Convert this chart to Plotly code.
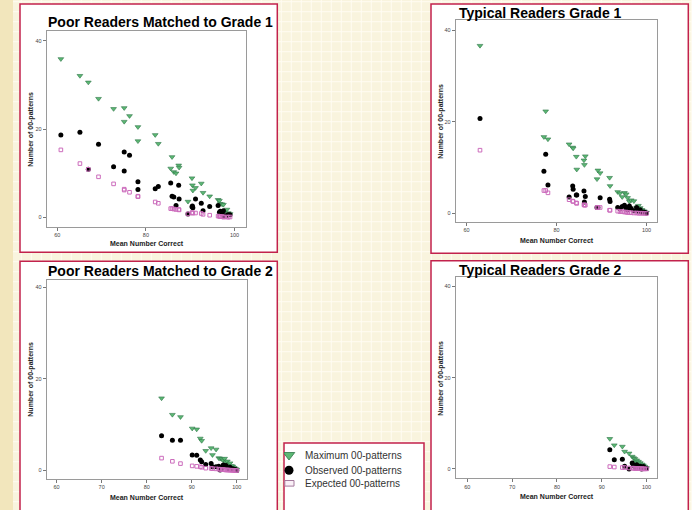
import plotly.graph_objects as go

# ---------------- data ----------------
titles = ["Poor Readers Matched to Grade 1", "Typical Readers Grade 1",
          "Poor Readers Matched to Grade 2", "Typical Readers Grade 2"]
series_names = ["Maximum 00-patterns", "Observed 00-patterns", "Expected 00-patterns"]
x_title = "Mean Number Correct"
y_title = "Number of 00-patterns"

p1_x = [60.8, 65.1, 67.0, 69.3, 72.7, 75.1, 75.1, 76.3, 78.2, 78.2, 82.1, 82.8, 85.6, 85.9, 86.3,
        86.8, 87.4, 87.5, 89.5, 90.4, 90.5, 90.6, 91.2, 92.5, 92.9, 94.4, 96.3, 96.6, 96.8, 97.2,
        97.5, 97.6, 98.3, 98.6, 99.0]
p1_max = [35.9, 32.1, 30.6, 26.9, 24.6, 24.8, 21.7, 23.0, 20.5, 17.3, 18.7, 16.7, 11.1, 13.7, 10.3,
          10.0, 11.8, 11.3, 3.6, 8.9, 7.3, 6.1, 6.7, 7.7, 5.6, 4.8, 4.0, 3.8, 3.1, 3.0,
          2.9, 1.2, 1.8, 1.0, 0.8]
p1_obs = [18.7, 19.3, 10.9, 16.6, 11.5, 14.8, 10.5, 14.1, 8.1, 6.3, 6.5, 7.0, 7.8, 4.8, 4.6,
          2.7, 7.3, 4.2, 0.8, 2.4, 2.6, 2.2, 4.2, 3.2, 1.5, 2.5, 2.7, 1.2, 1.4, 0.9,
          1.5, 0.3, 0.5, 0.6, 0.6]
p1_exp = [15.3, 12.2, 10.9, 9.2, 7.6, 6.4, 6.2, 5.7, 4.8, 4.7, 3.5, 3.2, 2.0, 2.0, 1.9,
          1.8, 1.8, 1.7, 0.8, 1.1, 1.0, 1.0, 1.0, 0.9, 0.7, 0.5, 0.3, 0.25, 0.2, 0.2,
          0.1, 0.1, 0.1, 0.05, 0.1]

p2_x = [63.0, 77.2, 77.6, 78.1, 82.8, 83.6, 83.7, 84.4, 84.5, 86.1, 86.2, 86.4, 89.0, 89.2, 89.7,
        91.8, 91.9, 93.6, 94.1, 94.6, 95.1, 95.5, 95.8, 96.2, 96.6, 97.2, 97.8, 98.2, 98.6, 99.0,
        99.5, 100.0]
p2_max = [36.6, 16.7, 22.3, 16.2, 15.1, 14.4, 14.2, 12.4, 9.6, 11.6, 10.6, 12.5, 7.5, 9.4, 8.8,
          7.8, 6.0, 4.7, 4.4, 3.6, 4.5, 4.2, 3.4, 2.6, 2.9, 2.7, 1.3, 1.7, 1.2, 0.8,
          0.5, 0.2]
p2_obs = [20.7, 9.2, 12.9, 6.2, 3.6, 6.0, 5.3, 4.0, 4.0, 4.9, 2.5, 3.7, 1.3, 1.3, 3.4,
          3.1, 2.6, 1.3, 1.0, 1.5, 1.8, 1.2, 0.8, 1.6, 1.1, 0.6, 1.3, 0.5, 0.8, 0.2,
          0.3, 0.1]
p2_exp = [13.8, 5.0, 5.0, 4.5, 3.0, 2.7, 2.6, 2.3, 2.2, 1.9, 1.8, 1.8, 1.3, 1.3, 1.3,
          0.7, 0.7, 0.5, 0.4, 0.4, 0.3, 0.3, 0.2, 0.2, 0.15, 0.1, 0.1, 0.05, 0.05, 0.05,
          0.0, 0.0]

p3_x = [83.3, 85.7, 87.5, 90.1, 91.1, 91.9, 92.2, 93.1, 94.3, 94.6, 95.4, 96.0, 96.3, 96.7, 97.0,
        97.3, 97.6, 97.9, 98.2, 98.5, 98.8, 99.1, 99.4, 99.7, 100.0]
p3_max = [15.8, 12.2, 11.7, 9.2, 9.0, 7.0, 6.5, 4.3, 4.9, 3.4, 4.6, 2.7, 2.6, 2.5, 2.2,
          2.6, 1.8, 2.0, 1.4, 1.6, 1.0, 0.9, 0.6, 0.4, 0.2]
p3_obs = [7.6, 6.6, 6.6, 3.4, 3.3, 2.3, 1.9, 1.3, 1.5, 0.8, 0.8, 0.9, 0.1, 0.5, 1.2,
          0.9, 1.1, 0.6, 0.3, 0.7, 0.2, 0.4, 0.1, 0.2, 0.0]
p3_exp = [2.7, 2.0, 1.5, 1.0, 0.9, 0.8, 0.7, 0.5, 0.45, 0.4, 0.35, 0.3, 0.25, 0.2, 0.2,
          0.15, 0.1, 0.1, 0.1, 0.05, 0.05, 0.05, 0.0, 0.0, 0.0]

p4_x = [91.8, 92.8, 94.6, 95.1, 96.1, 96.8, 97.1, 97.4, 97.6, 97.8, 98.2, 98.6, 98.9, 99.0, 99.3,
        99.6, 100.0]
p4_max = [6.6, 5.2, 4.9, 3.8, 3.4, 2.7, 2.4, 2.2, 1.5, 1.9, 1.6, 1.3, 0.6, 1.0, 0.8, 0.5, 0.2]
p4_obs = [4.2, 2.0, 2.1, 0.6, 0.0, 1.3, 0.8, 0.5, 0.2, 0.9, 0.4, 0.6, 0.0, 0.3, 0.5, 0.2, 0.1]
p4_exp = [0.5, 0.4, 0.3, 0.3, 0.2, 0.15, 0.15, 0.1, 0.05, 0.1, 0.1, 0.05, 0.0, 0.05, 0.0, 0.0, 0.0]

y_ticks = [0, 20, 40]
x_ticks_top = [60, 80, 100]
x_ticks_bottom = [60, 70, 80, 90, 100]

# ---------------- layout geometry (pixels) ----------------
W, H = 692, 510
def fx(x): return x / W
def fy(y): return 1 - y / H

FONT = "Liberation Sans, Arial, sans-serif"
GREEN, GREEN_EDGE = "#5cb874", "#2f7548"
PINK = "#cc6cbc"
CRIMSON = "#c2224c"

panels = [
    dict(data=(p1_x, p1_max, p1_obs, p1_exp), dx=(46.7, 246), dy=(30.7, 226.7),
         xr=[57.6, 102.6], yr=[-2.1, 42.3], xt=x_ticks_top,
         title=(160.5, 21.7), xlab=(146.5, 243.7), ylab=(30.7, 129), box=(20, 4, 277.3, 252.3)),
    dict(data=(p2_x, p2_max, p2_obs, p2_exp), dx=(455.7, 657.3), dy=(20, 221.7),
         xr=[57.6, 102.4], yr=[-1.8, 42.2], xt=x_ticks_top,
         title=(540.8, 13.3), xlab=(557, 240), ylab=(440.7, 121), box=(431, 4, 688.3, 253.3)),
    dict(data=(p3_x, p3_max, p3_obs, p3_exp), dx=(46.7, 246.7), dy=(279.7, 478.7),
         xr=[57.8, 102.2], yr=[-1.8, 41.7], xt=x_ticks_bottom,
         title=(160.5, 271.3), xlab=(146.5, 497.5), ylab=(30.7, 379), box=(20, 261.3, 277.3, 515)),
    dict(data=(p4_x, p4_max, p4_obs, p4_exp), dx=(455.7, 657.3), dy=(277.3, 478),
         xr=[57.4, 102.4], yr=[-2.0, 42.0], xt=x_ticks_bottom,
         title=(540.8, 270.3), xlab=(557, 496.7), ylab=(440.7, 378), box=(431, 260.7, 688.3, 515)),
]

fig = go.Figure()
shapes = []
annotations = []

# background: darker strip on the left, light beige with white grid
shapes.append(dict(type="rect", xref="paper", yref="paper", x0=0, x1=fx(13), y0=0, y1=1,
                   fillcolor="#f2e6bc", line=dict(width=0), layer="below"))
gx = 21.3
while gx < W:
    shapes.append(dict(type="line", xref="paper", yref="paper", x0=fx(gx), x1=fx(gx), y0=0, y1=1,
                       line=dict(color="#fffcf2", width=1), layer="below"))
    gx += 10
gy = 1.7
while gy < H:
    shapes.append(dict(type="line", xref="paper", yref="paper", x0=fx(13), x1=1, y0=fy(gy), y1=fy(gy),
                       line=dict(color="#fffcf2", width=1), layer="below"))
    gy += 10

for i, p in enumerate(panels):
    n = "" if i == 0 else str(i + 1)
    x0, y0, x1, y1 = p["box"]
    shapes.append(dict(type="rect", xref="paper", yref="paper", x0=fx(x0), x1=fx(x1), y0=fy(y1), y1=fy(y0),
                       fillcolor="white", line=dict(color=CRIMSON, width=1.5), layer="below"))
    xs, mx, ob, ex = p["data"]
    axref = dict(xaxis="x" + n, yaxis="y" + n)
    fig.add_trace(go.Scatter(x=xs, y=mx, mode="markers", name=series_names[0], showlegend=False,
                             marker=dict(symbol="triangle-down", size=5, color=GREEN,
                                         line=dict(color=GREEN_EDGE, width=0.6)), **axref))
    fig.add_trace(go.Scatter(x=xs, y=ob, mode="markers", name=series_names[1], showlegend=False,
                             marker=dict(symbol="circle", size=5, color="black"), **axref))
    fig.add_trace(go.Scatter(x=xs, y=ex, mode="markers", name=series_names[2], showlegend=False,
                             marker=dict(symbol="square-open", size=3.6, color=PINK,
                                         line=dict(width=1)), **axref))
    common = dict(showline=True, mirror=True, linecolor="#9a9a9a", linewidth=1, showgrid=False,
                  zeroline=False, ticks="outside", ticklen=3, tickcolor="#777", tickwidth=1,
                  tickfont=dict(size=5.5, color="#444", family=FONT), fixedrange=True)
    fig.update_layout(**{
        "xaxis" + n: dict(domain=[fx(p["dx"][0]), fx(p["dx"][1])], range=p["xr"],
                          tickvals=p["xt"], anchor="y" + n, **common),
        "yaxis" + n: dict(domain=[fy(p["dy"][1]), fy(p["dy"][0])], range=p["yr"],
                          tickvals=y_ticks, anchor="x" + n, **common),
    })
    annotations.append(dict(text="<b>" + titles[i] + "</b>", xref="paper", yref="paper",
                            x=fx(p["title"][0]), y=fy(p["title"][1]), xanchor="center", yanchor="middle",
                            showarrow=False, font=dict(size=14, color="black", family=FONT)))
    annotations.append(dict(text="<b>" + x_title + "</b>", xref="paper", yref="paper",
                            x=fx(p["xlab"][0]), y=fy(p["xlab"][1]), xanchor="center", yanchor="middle",
                            showarrow=False, font=dict(size=7, color="#222", family=FONT)))
    annotations.append(dict(text="<b>" + y_title + "</b>", xref="paper", yref="paper",
                            x=fx(p["ylab"][0]), y=fy(p["ylab"][1]), xanchor="center", yanchor="middle",
                            textangle=-90, showarrow=False, font=dict(size=7, color="#222", family=FONT)))

# legend box
shapes.append(dict(type="rect", xref="paper", yref="paper", x0=fx(284), x1=fx(424), y0=fy(515), y1=fy(443),
                   fillcolor="white", line=dict(color=CRIMSON, width=1.5), layer="below"))
# legend glyphs, drawn in a pixel-scaled helper axis
leg_rows = [455, 470.3, 483.3]
fig.add_trace(go.Scatter(x=[289], y=[leg_rows[0]], mode="markers", showlegend=False, hoverinfo="skip",
                         marker=dict(symbol="triangle-down", size=10, color=GREEN,
                                     line=dict(color=GREEN_EDGE, width=0.8)), xaxis="x5", yaxis="y5"))
fig.add_trace(go.Scatter(x=[289], y=[leg_rows[1]], mode="markers", showlegend=False, hoverinfo="skip",
                         marker=dict(symbol="circle", size=9, color="black"), xaxis="x5", yaxis="y5"))
shapes.append(dict(type="rect", xref="x5", yref="y5", x0=284.8, x1=294, y0=leg_rows[2] - 2.8,
                   y1=leg_rows[2] + 2.8, fillcolor="#faf0f7", line=dict(color="#a47a9c", width=1)))
for r, name in zip(leg_rows, series_names):
    annotations.append(dict(text=name, xref="x5", yref="y5", x=302.5, y=r, xanchor="left",
                            yanchor="middle", showarrow=False,
                            font=dict(size=10, color="#333", family=FONT)))
fig.update_layout(
    xaxis5=dict(domain=[fx(284), fx(424)], range=[284, 424], visible=False, fixedrange=True, anchor="y5"),
    yaxis5=dict(domain=[0, fy(443)], range=[510, 443], visible=False, fixedrange=True, anchor="x5"),
)

fig.update_layout(width=W, height=H, margin=dict(l=0, r=0, t=0, b=0),
                  paper_bgcolor="#f9f4de", plot_bgcolor="rgba(0,0,0,0)",
                  shapes=shapes, annotations=annotations, showlegend=False,
                  font=dict(family=FONT))
fig.write_html("out.html", config={"displayModeBar": False},
               post_script="document.body.style.margin='0px';document.body.style.overflow='hidden';")
